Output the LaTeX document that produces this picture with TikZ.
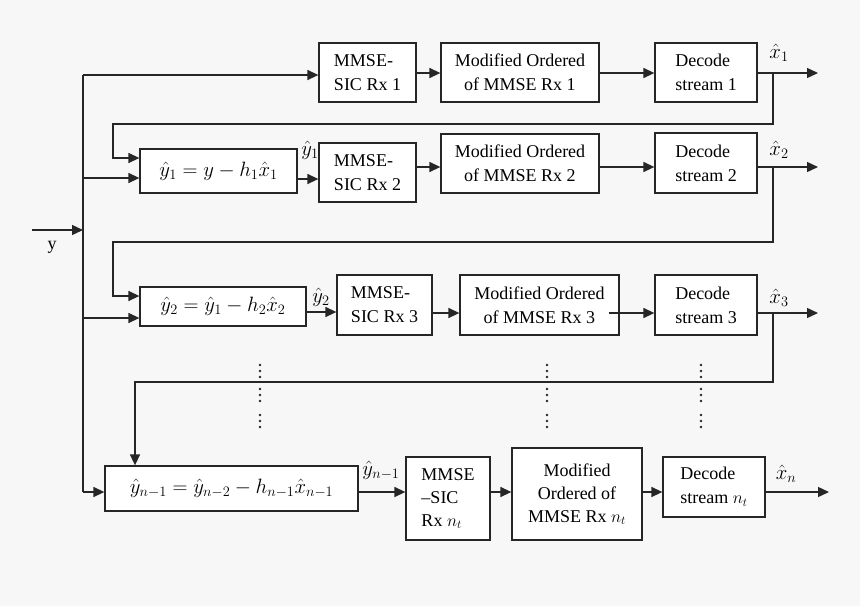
\documentclass[tikz,border=0pt]{standalone}
\usepackage{fontspec}
\setmainfont{Liberation Serif}
\usetikzlibrary{arrows.meta}
\definecolor{bgc}{RGB}{247,247,247}
\begin{document}
\begin{tikzpicture}[x=1pt,y=-1pt,
  blk/.style={draw=black!85, line width=1.3pt, fill=white, inner sep=0pt, font=\fontsize{18}{24}\selectfont},
  eqf/.style={font=\fontsize{22.5}{26}\selectfont},
  ln/.style={draw=black!85, line width=1.4pt},
  arr/.style={ln, -{Triangle[length=11pt,width=10pt]}},
  lab/.style={font=\fontsize{22}{26}\selectfont, inner sep=0pt}]
\fill[bgc] (0,0) rectangle (860,606);
\useasboundingbox (0,0) rectangle (860,606);

% row 1
\node[blk, minimum width=97pt, minimum height=59pt, align=left] (m1) at (367.5,72.5) {MMSE-\\SIC Rx 1};
\node[blk, minimum width=158pt, minimum height=59pt, align=center] (o1) at (520,72.5) {Modified Ordered\\of MMSE Rx 1};
\node[blk, minimum width=102pt, minimum height=59pt, align=left] (d1) at (706,72.5) {Decode\\stream 1};
% row 2
\node[blk, eqf, minimum width=157pt, minimum height=44pt] (e1) at (218.5,171) {$\hat{y}_1 = y - h_1\hat{x}_1$};
\node[blk, minimum width=97pt, minimum height=59pt, align=left] (m2) at (367.5,172.5) {MMSE-\\SIC Rx 2};
\node[blk, minimum width=158pt, minimum height=59pt, align=center] (o2) at (520,163.5) {Modified Ordered\\of MMSE Rx 2};
\node[blk, minimum width=102pt, minimum height=60pt, align=left] (d2) at (706,163) {Decode\\stream 2};
% row 3
\node[blk, eqf, minimum width=166pt, minimum height=39pt] (e2) at (223,306.5) {$\hat{y}_2 = \hat{y}_1 - h_2\hat{x}_2$};
\node[blk, minimum width=95pt, minimum height=60pt, align=left] (m3) at (384.5,305) {MMSE-\\SIC Rx 3};
\node[blk, minimum width=159pt, minimum height=60pt, align=center] (o3) at (539.5,305) {Modified Ordered\\of MMSE Rx 3};
\node[blk, minimum width=102pt, minimum height=60pt, align=left] (d3) at (706,305) {Decode\\stream 3};
% row n
\node[blk, eqf, minimum width=253pt, minimum height=45pt] (en) at (231.5,488.5) {$\hat{y}_{n-1} = \hat{y}_{n-2} - h_{n-1}\hat{x}_{n-1}$};
\node[blk, font=\fontsize{18}{23}\selectfont, minimum width=84pt, minimum height=83pt, align=left] (mn) at (448,498.5) {MMSE\\–SIC\\Rx $n_t$};
\node[blk, font=\fontsize{18}{23}\selectfont, minimum width=130pt, minimum height=92pt, align=center] (on) at (577,494) {Modified\\Ordered of\\MMSE Rx $n_t$};
\node[blk, minimum width=102pt, minimum height=60pt, align=left] (dn) at (714,487) {Decode\\stream $n_t$};

% input and bus
\coordinate (yin) at (32,230);
\coordinate (bt) at (83,75);
\coordinate (bb) at (83,492);
\draw[arr] (yin) -- (yin -| bt);
\node[inner sep=0pt, font=\fontsize{18}{22}\selectfont] (ylab) at (52,247) {y};
\draw[ln] (bb) -- (bt);
\draw[arr] (bt) -- (m1.west |- bt);
\draw[arr] (83,178) -- (e1.west |- 0,178);
\draw[arr] (83,318) -- (e2.west |- 0,318);
\draw[arr] (bb) -- (en.west |- bb);

% row 1 connectors
\draw[arr] (m1.east |- 0,73) -- (o1.west |- 0,73);
\draw[arr] (o1.east |- 0,73) -- (d1.west |- 0,73);
\coordinate (x1o) at (818,73);
\draw[arr] (d1.east |- x1o) -- (x1o);
\node[lab] (x1) at (779,53) {$\hat{x}_1$};
\draw[arr] (773,73) -- (773,124) -- (113,124) -- (113,158) -- (e1.west |- 0,158);

% row 2 connectors
\draw[arr] (e1.east |- 0,179) -- (m2.west |- 0,179);
\node[lab] (y1) at (310,150) {$\hat{y}_1$};
\draw[arr] (m2.east |- 0,167) -- (o2.west |- 0,167);
\draw[arr] (o2.east |- 0,167) -- (d2.west |- 0,167);
\coordinate (x2o) at (818,167);
\draw[arr] (d2.east |- x2o) -- (x2o);
\node[lab] (x2) at (779,150) {$\hat{x}_2$};
\draw[arr] (773,167) -- (773,242) -- (113,242) -- (113,296) -- (e2.west |- 0,296);

% row 3 connectors
\draw[arr] (e2.east |- 0,312) -- (m3.west |- 0,312);
\node[lab] (y2) at (321,297) {$\hat{y}_2$};
\draw[arr] (m3.east |- 0,313) -- (o3.west |- 0,313);
\draw[arr] ([xshift=-11pt]o3.east |- 0,313) -- (d3.west |- 0,313);
\coordinate (x3o) at (818,313);
\draw[arr] (d3.east |- x3o) -- (x3o);
\node[lab] (x3) at (779,298) {$\hat{x}_3$};
\draw[arr] (773,313) -- (773,382) -- (135,382) -- (en.north -| 135,0);

% row n connectors
\draw[arr] (en.east |- 0,492) -- (mn.west |- 0,492);
\node[lab] (yn) at (381,470) {$\hat{y}_{n-1}$};
\draw[arr] (mn.east |- 0,492) -- (on.west |- 0,492);
\draw[arr] (on.east |- 0,492) -- (dn.west |- 0,492);
\coordinate (xno) at (829,492);
\draw[arr] (dn.east |- xno) -- (xno);
\node[lab] (xn) at (786,474) {$\hat{x}_n$};

% dots
\foreach \xx in {260,547,701}
  \foreach \yy in {365,371,377,389,395,401,415,421,427}
    \fill[black!85] (\xx,\yy) circle (1.3pt);
\end{tikzpicture}
\end{document}
